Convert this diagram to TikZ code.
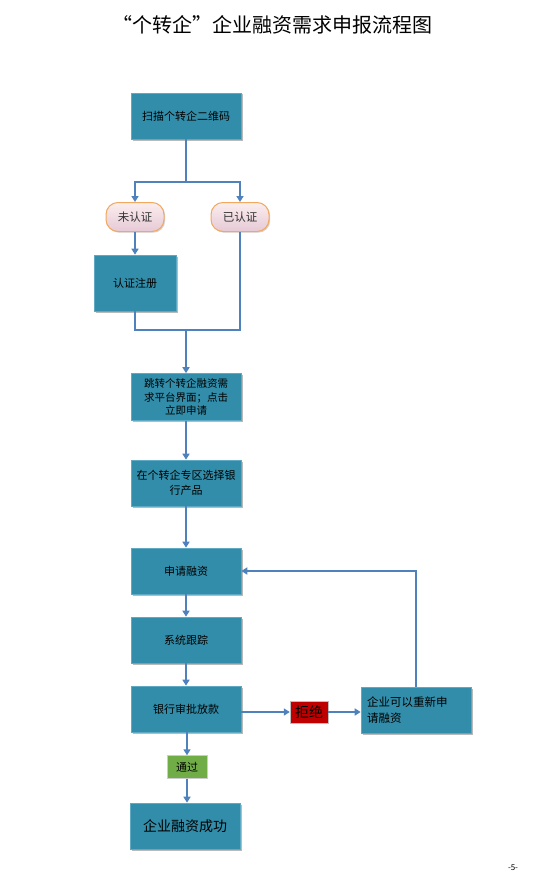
\documentclass[tikz,border=0pt]{standalone}
\usepackage{fontspec}
\setmainfont{Noto Sans CJK SC}
\usetikzlibrary{arrows.meta,shadows,positioning}
\definecolor{boxfill}{HTML}{318DA9}
\definecolor{boxedge}{HTML}{5FA9C2}
\definecolor{lineblue}{HTML}{4F81BD}
\definecolor{ovaledge}{HTML}{F2A85E}
\definecolor{ovaltop}{HTML}{FBEDEE}
\definecolor{ovalbot}{HTML}{E6CAD6}
\definecolor{rejred}{HTML}{C00000}
\definecolor{passgreen}{HTML}{70AD47}
\tikzset{
  procbox/.style={draw=boxedge, line width=0.6pt, fill=boxfill, minimum width=110pt, minimum height=46pt,
    inner sep=2pt, align=center, font=\fontsize{11pt}{15pt}\selectfont, text=black,
    drop shadow={shadow xshift=1.5pt, shadow yshift=-1.5pt, fill=black!45, opacity=0.6}},
  ovalbox/.style={draw=ovaledge, line width=1pt, top color=ovaltop, bottom color=ovalbot,
    rounded corners=12pt, minimum width=58pt, minimum height=29pt, inner sep=2pt,
    font=\fontsize{11.5pt}{13pt}\selectfont, text=black!80,
    drop shadow={shadow xshift=1.2pt, shadow yshift=-1.2pt, fill=black!35, opacity=0.5}},
  conn/.style={draw=lineblue, line width=2.7pt},
  arr/.style={conn, -{Triangle[length=6pt,width=7pt]}},
}
\begin{document}
\begin{tikzpicture}[x=1pt,y=-1pt]
\useasboundingbox (0,0) rectangle (540,880);
\node (title) at (272,25) {\fontsize{20pt}{23pt}\selectfont “个转企”企业融资需求申报流程图};
\node (b1) [procbox] at (186,116) {扫描个转企二维码};
\node (o1) [ovalbox] at (135,217) {未认证};
\node (o2) [ovalbox] at (240,217) {已认证};
\node (reg) [procbox, minimum width=82pt, minimum height=56pt] at (135,283) {认证注册};
\node (b2) [procbox, minimum height=47pt, font=\fontsize{10.5pt}{13.5pt}\selectfont] at (186,397) {跳转个转企融资需\\求平台界面；点击\\立即申请};
\node (b3) [procbox] at (186,483) {在个转企专区选择银\\行产品};
\node (b4) [procbox] at (186,571) {申请融资};
\node (b5) [procbox] at (186,640) {系统跟踪};
\node (b6) [procbox] at (186,709) {银行审批放款};
\node (rej) [draw=black!25, fill=rejred, minimum width=38pt, minimum height=22pt, inner sep=1pt,
  font=\fontsize{14pt}{15pt}\selectfont] at (309,712) {拒绝};
\node (retry) [procbox, align=left, text width=98pt, font=\fontsize{11.5pt}{16pt}\selectfont] at (416,710) {企业可以重新申\\请融资};
\node (pass) [draw=black!20, fill=passgreen, minimum width=40pt, minimum height=23pt, inner sep=1pt,
  font=\fontsize{11pt}{13pt}\selectfont] at (187,767) {通过};
\node (succ) [procbox, font=\fontsize{14pt}{16pt}\selectfont] at (185,826) {企业融资成功};
\node (page) at (513,868) {\fontsize{8pt}{9pt}\selectfont -5-};
\coordinate (j1) at (186,182);
\coordinate (j2) at (186,330);
\draw[conn] (b1.south) -- (j1);
\draw[arr] (j1) -| (o1.north);
\draw[arr] (j1) -| (o2.north);
\draw[arr] (o1.south) -- (reg.north);
\draw[conn] (reg.south) |- (j2);
\draw[conn] (o2.south) |- (j2);
\draw[arr] (j2) -- (b2.north);
\draw[arr] (b2.south) -- (b3.north);
\draw[arr] (b3.south) -- (b4.north);
\draw[arr] (b4.south) -- (b5.north);
\draw[arr] (b5.south) -- (b6.north);
\draw[arr] (b6.south -| pass.north) -- (pass.north);
\draw[arr] (pass.south) -- (succ.north -| pass.south);
\draw[arr] (b6.east |- rej.west) -- (rej.west);
\draw[arr] (rej.east) -- (retry.west |- rej.east);
\draw[arr] (retry.north) |- (b4.east);
\end{tikzpicture}
\end{document}
